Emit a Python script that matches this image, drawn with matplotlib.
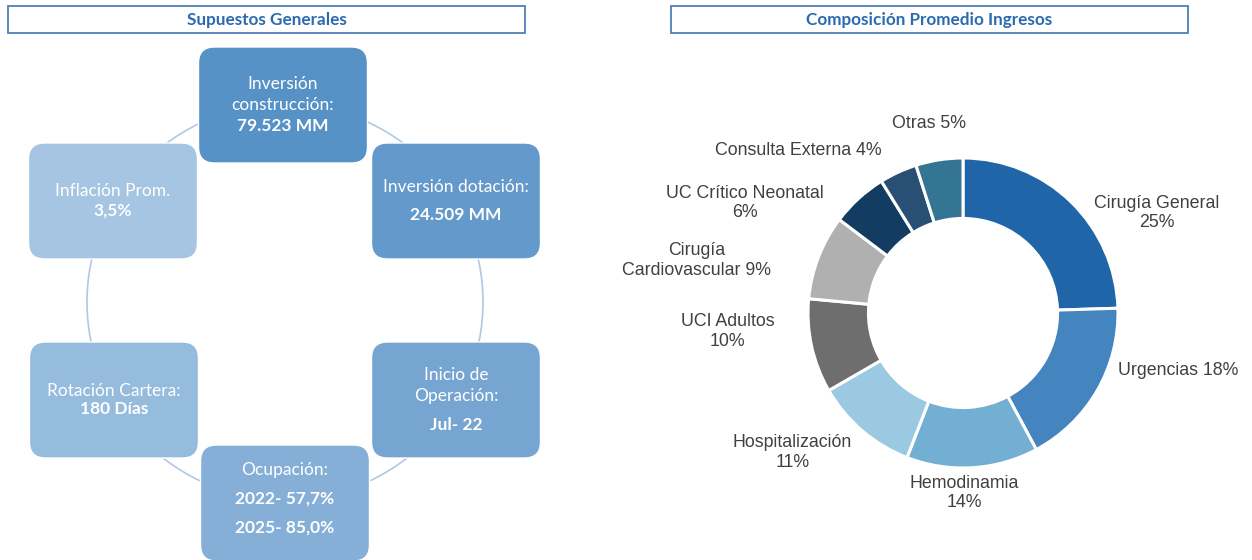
import matplotlib.pyplot as plt
from matplotlib.patches import FancyBboxPatch, Rectangle, Circle

# left panel: assumptions shown in the cycle of boxes (clockwise from top)
box_titles = ['Inversión\nconstrucción:', 'Inversión dotación:', 'Inicio de\nOperación:',
              'Ocupación:', 'Rotación Cartera:', 'Inflación Prom.']
box_values = ['79.523 MM', '24.509 MM', 'Jul- 22',
              '2022- 57,7%\n2025- 85,0%', '180 Días', '3,5%']

# right panel: average revenue composition (%)
categories = ['Cirugía General', 'Urgencias', 'Hemodinamia', 'Hospitalización',
              'UCI Adultos', 'Cirugía\nCardiovascular', 'UC Crítico Neonatal',
              'Consulta Externa', 'Otras']
shares = [25, 18, 14, 11, 10, 9, 6, 4, 5]

W, H = 1252, 560
fig = plt.figure(figsize=(W / 100, H / 100), dpi=100)

# full-figure canvas in pixel units for the layout pieces
canvas = fig.add_axes([0, 0, 1, 1])
canvas.set_xlim(0, W)
canvas.set_ylim(H, 0)
canvas.axis('off')

box_font = ['Lato', 'DejaVu Sans']
title_col = '#2A6BB0'

# title frames
for x0, x1, txt in [(8, 525, 'Supuestos Generales'), (671, 1188, 'Composición Promedio Ingresos')]:
    canvas.add_patch(Rectangle((x0, 6), x1 - x0, 27, fill=False, ec='#4F7FB8', lw=1.3))
    canvas.text((x0 + x1) / 2, 19.5, txt, ha='center', va='center', fontsize=12.3,
                fontweight='bold', color=title_col, family=box_font)

# cycle ring behind the boxes
cx, cy, rad = 285, 302, 198
canvas.add_patch(Circle((cx, cy), rad, fill=False, ec='#AFC8E3', lw=1.2, zorder=1))

# bottom box runs off the lower edge, as in the reference
centers = [(283, 105), (456, 201), (456, 400), (285, 503), (114, 400), (113, 201)]
box_cols = ['#5692C6', '#6399CB', '#77A5D1', '#85AFD6', '#95BBDD', '#A6C5E2']
val_gaps = [21, 27, 29, 28, 19, 20]
bw, bh = 169, 116
for i, ((x, y), col, gap, t, v) in enumerate(zip(centers, box_cols, val_gaps, box_titles, box_values)):
    canvas.add_patch(FancyBboxPatch((x - bw / 2 + 16, y - bh / 2 + 16), bw - 32, bh - 32,
                                    boxstyle='round,pad=16', fc=col, ec='white', lw=1.0, zorder=2))
    t_lines = t.split('\n')
    v_lines = v.split('\n')
    ys = [k * 20.5 for k in range(len(t_lines))]
    last = ys[-1]
    for j in range(len(v_lines)):
        ys.append(last + gap + j * 29)
    # text of the clipped bottom box stays where it is in the reference
    ty = y - 4 if i == 3 else y
    off = ty - (ys[0] + ys[-1]) / 2
    for k, line in enumerate(t_lines + v_lines):
        bold = k >= len(t_lines)
        canvas.text(x, ys[k] + off, line, ha='center', va='center', fontsize=12.5,
                    fontweight='bold' if bold else 'normal', color='white',
                    family=box_font, zorder=3)

# donut
pie_cols = ['#1F65A7', '#4485C0', '#72AFD2', '#9CC9E2', '#6E6E6E',
            '#B0B0B0', '#133C62', '#2A4F75', '#337593']
pcx, pcy, pr = 963, 313, 155
side = 2 * pr * 2
ax = fig.add_axes([(pcx - side / 2) / W, (H - pcy - side / 2) / H, side / W, side / H])
ax.pie(shares, colors=pie_cols, startangle=90, counterclock=False, radius=1,
       wedgeprops=dict(width=0.39, edgecolor='white', linewidth=2.2))
ax.set_xlim(-2, 2)
ax.set_ylim(-2, 2)
ax.set_aspect('equal')
ax.axis('off')

seps = ['\n', ' ', '\n', '\n', '\n', ' ', '\n', ' ', ' ']
label_xy = [(1.25, 0.645), (1.39, -0.37), (0.01, -1.16), (-1.10, -0.90), (-1.52, -0.12),
            (-1.72, 0.34), (-1.41, 0.71), (-1.06, 1.05), (-0.22, 1.22)]
for name, val, sep, (lx, ly) in zip(categories, shares, seps, label_xy):
    ax.text(lx, ly, f'{name}{sep}{val}%', ha='center', va='center', fontsize=12.8,
            color='#404040', family=['Liberation Sans', 'DejaVu Sans'], linespacing=1.2)

fig.savefig('out.png', dpi=100, facecolor='white')
